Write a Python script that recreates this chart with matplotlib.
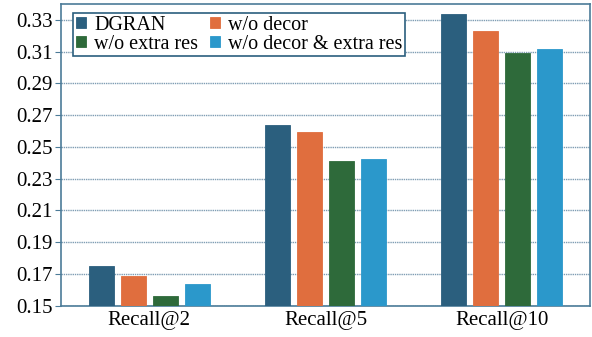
import numpy as np
import matplotlib
matplotlib.use('Agg')
import matplotlib.pyplot as plt

plt.rcParams['font.family'] = ['Liberation Serif', 'DejaVu Serif']

# Data
groups = ['Recall@2', 'Recall@5', 'Recall@10']
methods = ['DGRAN', 'w/o decor', 'w/o extra res', 'w/o decor & extra res']
dgran = [0.1752, 0.2639, 0.3336]
wo_decor = [0.1687, 0.2596, 0.3231]
wo_extra = [0.1563, 0.2414, 0.3090]
wo_both = [0.1635, 0.2424, 0.3119]
yticks = [0.15, 0.17, 0.19, 0.21, 0.23, 0.25, 0.27, 0.29, 0.31, 0.33]

colors = ['#2b5f7e', '#e06e3e', '#2e6a3a', '#2b98cb']
spine_col = '#4b7b98'

fig = plt.figure(figsize=(5.92, 3.37), dpi=100)
ax = fig.add_axes([61/592, 1 - 305.7/337, 529/592, 301.7/337])

x = np.arange(len(groups))
width = 0.142
step = 0.181
series = [dgran, wo_decor, wo_extra, wo_both]
bars = []
for i, (vals, c, lab) in enumerate(zip(series, colors, methods)):
    b = ax.bar(x + (i - 1.5) * step, vals, width, color=c, label=lab,
               edgecolor=c, linewidth=0.6, zorder=3)
    bars.append(b)

ax.set_xlim(-0.5, 2.5)
ax.set_ylim(0.15, 0.34)
ax.set_yticks(yticks)
ax.set_yticklabels([f'{v:.2f}' for v in yticks])
ax.set_xticks(x)
ax.set_xticklabels(groups)
ax.tick_params(axis='x', length=0, labelsize=15, pad=4)
ax.tick_params(axis='y', length=4, width=0.8, color=spine_col, labelsize=15, pad=2)
ax.yaxis.grid(True, linestyle=(0, (1, 0.6)), color='#7f9db3', linewidth=1.0, zorder=0)
for s in ax.spines.values():
    s.set_color(spine_col)
    s.set_linewidth(1.2)

# row-wise legend order
order = [0, 2, 1, 3]
leg = ax.legend([bars[i] for i in order], [methods[i] for i in order],
                ncol=2, loc='upper left', bbox_to_anchor=(0.016, 0.982),
                fontsize=14.5, frameon=True, fancybox=False,
                handlelength=0.5, handleheight=0.5, handletextpad=0.4,
                columnspacing=0.6, labelspacing=0.0, borderpad=0.12,
                borderaxespad=0.2)
leg.get_frame().set_edgecolor('#2b5f7e')
leg.get_frame().set_linewidth(1.2)
leg.get_frame().set_alpha(1)

fig.savefig('out.png', dpi=100)
